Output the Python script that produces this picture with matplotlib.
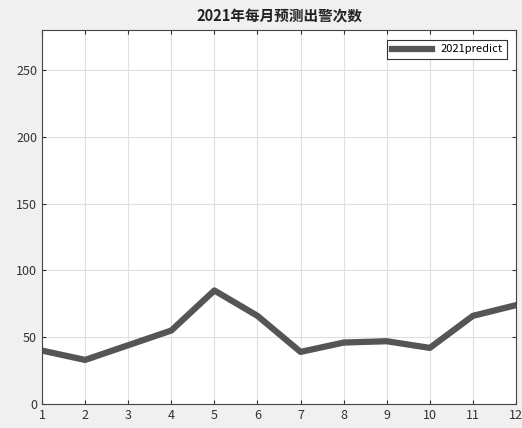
import matplotlib
matplotlib.use("Agg")
import matplotlib.pyplot as plt

plt.rcParams['font.family'] = ['Noto Sans CJK SC', 'DejaVu Sans']

months = [1, 2, 3, 4, 5, 6, 7, 8, 9, 10, 11, 12]
predict = [40, 33, 44, 55, 85, 66, 39, 46, 47, 42, 66, 74]
yticks = [0, 50, 100, 150, 200, 250]

fig = plt.figure(figsize=(5.22, 4.28), dpi=100, facecolor='#f0f0f0')
ax = fig.add_axes([42/522, 1-404/428, (516-42)/522, (404-30)/428])
ax.set_facecolor('white')
ax.plot(months, predict, color='#555555', linewidth=4.5, label='2021predict')
ax.set_xlim(1, 12)
ax.set_ylim(0, 280)
ax.set_xticks(months)
ax.set_yticks(yticks)
ax.grid(True, color='#e0e0e0', linewidth=0.8)
ax.tick_params(direction='in', top=True, right=True, labelsize=9, colors='#333333', length=3)
for s in ax.spines.values():
    s.set_color('#444444')
    s.set_linewidth(0.8)
ax.set_title('2021年每月预测出警次数', fontsize=10.5, fontweight='bold', pad=6, color='#222222')
leg = ax.legend(loc='upper right', fontsize=8, fancybox=False, framealpha=1,
                edgecolor='#333333', handlelength=3.6,
                bbox_to_anchor=(1 - 9/474, 1 - 10/374), borderaxespad=0)
leg.get_frame().set_linewidth(0.8)
fig.savefig('out.png', dpi=100, facecolor=fig.get_facecolor())
